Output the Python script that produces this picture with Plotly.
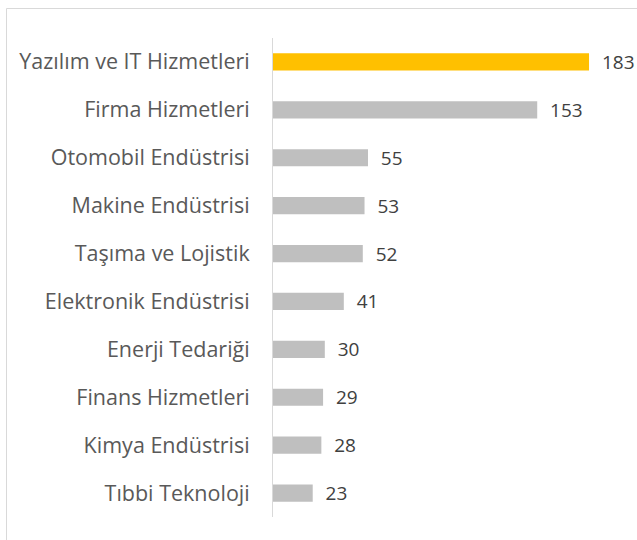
import plotly.graph_objects as go

# categories listed top to bottom as in the chart
categories = [
    "Yazılım ve IT Hizmetleri",
    "Firma Hizmetleri",
    "Otomobil Endüstrisi",
    "Makine Endüstrisi",
    "Taşıma ve Lojistik",
    "Elektronik Endüstrisi",
    "Enerji Tedariği",
    "Finans Hizmetleri",
    "Kimya Endüstrisi",
    "Tıbbi Teknoloji",
]
values = [183, 153, 55, 53, 52, 41, 30, 29, 28, 23]

highlight = "#FFC000"
grey = "#BFBFBF"
bar_colors = [highlight] + [grey] * (len(values) - 1)

W, H = 637, 540
ml, mr, mt, mb = 273, 0, 38, 23

fig = go.Figure()
fig.add_trace(go.Bar(
    x=values,
    y=categories,
    orientation="h",
    marker=dict(color=bar_colors, line=dict(width=0)),
    texttemplate="\u00a0\u00a0%{x}",
    textposition="outside",
    constraintext="none",
    textfont=dict(size=19, color="#404040", family="Open Sans"),
    cliponaxis=False,
    hoverinfo="skip",
))

pw = W - ml - mr
ph = H - mt - mb
fig.update_layout(
    width=W, height=H,
    margin=dict(l=ml, r=mr, t=mt, b=mb),
    plot_bgcolor="white",
    paper_bgcolor="white",
    bargap=0.64,
    showlegend=False,
    font=dict(family="Open Sans", color="#595959"),
    xaxis=dict(range=[0, pw / 1.727], visible=False, fixedrange=True),
    yaxis=dict(
        autorange="reversed",
        showline=True, linecolor="#D9D9D9", linewidth=1,
        ticks="", showgrid=False, fixedrange=True,
        ticklabelstandoff=18,
        tickfont=dict(size=21.5, color="#595959", family="Open Sans"),
    ),
    shapes=[dict(
        type="rect", xref="paper", yref="paper",
        x0=(6.5 - ml) / pw, x1=(W + 10 - ml) / pw,
        y0=-(mb + 10) / ph, y1=(H - 8.5 - mb) / ph,
        line=dict(color="#D9D9D9", width=1), layer="below",
    )],
)

fig.write_html("out.html", config={"displayModeBar": False},
               post_script="document.body.style.margin='0';")
